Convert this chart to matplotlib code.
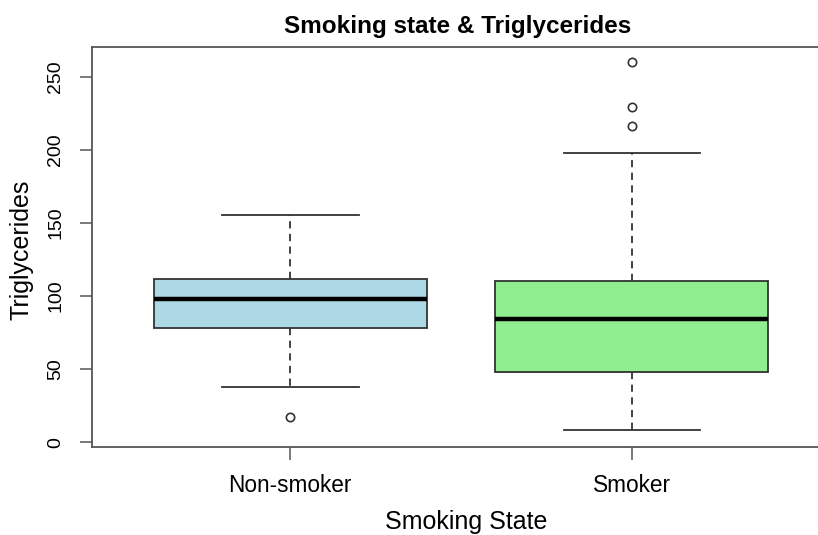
import matplotlib
matplotlib.use("Agg")
import matplotlib.pyplot as plt
from matplotlib import font_manager

plt.rcParams['font.family'] = ['Liberation Sans', 'DejaVu Sans']

# Five-number summaries of triglycerides by smoking status
groups = ["Non-smoker", "Smoker"]
lower_whisker = [38.1, 8.5]
q1 = [78.0, 48.0]
median = [98.2, 84.2]
q3 = [111.7, 110.3]
upper_whisker = [155.4, 197.5]
outliers = [[17.6], [216.2, 229.0, 259.7]]
fill_colors = ["#ADD8E6", "#90EE90"]
y_ticks = [0, 50, 100, 150, 200, 250]

stats = []
for i, g in enumerate(groups):
    stats.append(dict(label=g, whislo=lower_whisker[i], q1=q1[i], med=median[i],
                      q3=q3[i], whishi=upper_whisker[i], fliers=outliers[i]))

W, H = 818, 535
fig = plt.figure(figsize=(W / 100, H / 100), dpi=100)
ax = fig.add_axes([92 / W, 1 - 446.7 / H, (830 - 92) / W, (446.7 - 47.3) / H])

edge = "#333333"
bp = ax.bxp(stats, positions=[1, 2], widths=0.8, patch_artist=True,
            boxprops=dict(edgecolor=edge, linewidth=1.3),
            medianprops=dict(color="black", linewidth=3.2, solid_capstyle="butt"),
            whiskerprops=dict(color=edge, linewidth=1.3, linestyle=(0, (4, 3))),
            capprops=dict(color=edge, linewidth=1.3),
            flierprops=dict(marker="o", markerfacecolor="none", markeredgecolor=edge,
                            markersize=6, markeredgewidth=1.2),
            capwidths=0.4)
for patch, c in zip(bp["boxes"], fill_colors):
    patch.set_facecolor(c)

ax.set_xlim(0.42, 2.58)
ax.set_ylim(-2.9, 270)
ax.set_xticks([1, 2])
ax.set_xticklabels(groups)

# narrow face for the rotated y tick labels when available
installed = {f.name for f in font_manager.fontManager.ttflist}
if "Liberation Sans Narrow" in installed:
    ytick_family, ytick_size = "Liberation Sans Narrow", 16
else:
    ytick_family, ytick_size = "Liberation Sans", 14
ax.set_yticks(y_ticks)
ax.set_yticklabels([str(v) for v in y_ticks], rotation=90, va="center",
                   family=ytick_family, fontsize=ytick_size)

for s in ax.spines.values():
    s.set_color("#555555")
    s.set_linewidth(1.3)
ax.tick_params(axis="both", colors="#555555", labelcolor="black",
               length=9, width=1.1)
ax.tick_params(axis="x", labelsize=16.3, pad=11)
ax.tick_params(axis="y", pad=11)

# Title and axis labels placed in figure pixel coordinates
fig.text(458 / W, 1 - 27 / H, "Smoking state & Triglycerides", fontsize=17.5,
         fontweight="bold", ha="center", va="center")
fig.text(466 / W, 1 - 522 / H, "Smoking State", fontsize=18, ha="center", va="center")
fig.text(22 / W, 1 - 250 / H, "Triglycerides", fontsize=18, rotation=90,
         ha="center", va="center")

fig.savefig("out.png", dpi=100)
